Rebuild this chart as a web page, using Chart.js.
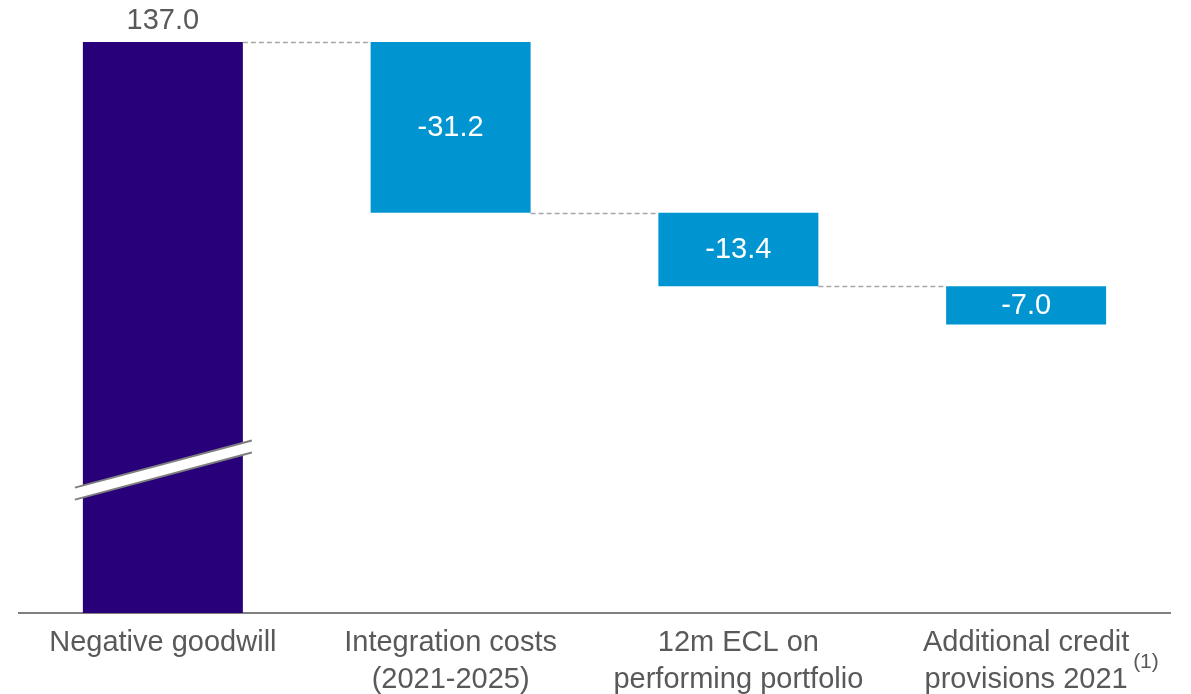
<!DOCTYPE html>
<html>
<head>
<meta charset="utf-8">
<script src="https://cdn.jsdelivr.net/npm/chart.js@4.4.1/dist/chart.umd.min.js"></script>
<style>
  html, body { margin: 0; padding: 0; background: #ffffff; }
  #wrap { width: 1191px; height: 694px; position: relative; }
</style>
</head>
<body>
<div id="wrap"><canvas id="c"></canvas></div>
<script>
// Bridge from negative goodwill to the net figure (EUR m)
const categories = [
  ['Negative goodwill'],
  ['Integration costs', '(2021-2025)'],
  ['12m ECL on', 'performing portfolio'],
  ['Additional credit', 'provisions 2021']
];
const changes = [137.0, -31.2, -13.4, -7.0];
const footnotes = ['', '', '', '(1)'];

// Broken value axis: the lower part of the first bar is cut away
const axisFloor = 32.7;
const axisCeil = 137.0;

const FONT = "'Liberation Sans', Arial, Helvetica, sans-serif";
const TEXT = '#595959';
const TOTAL_COLOR = '#28007A';
const STEP_COLOR = '#0094D1';

// floating spans [low, high] for each waterfall step
const spans = [];
const levels = [];
let running = 0;
changes.forEach((v, i) => {
  if (i === 0) {
    spans.push([0, v]);
    running = v;
  } else {
    spans.push([running + v, running]);
    running += v;
  }
  levels.push(running);
});

const waterfallDecor = {
  id: 'waterfallDecor',
  afterDatasetsDraw(chart) {
    const ctx = chart.ctx;
    const y = chart.scales.y;
    const bars = chart.getDatasetMeta(0).data;
    ctx.save();

    // dashed connectors between consecutive steps
    ctx.strokeStyle = '#A6A6A6';
    ctx.lineWidth = 1.5;
    ctx.setLineDash([5, 3]);
    for (let i = 0; i < bars.length - 1; i++) {
      const a = bars[i], b = bars[i + 1];
      const py = Math.round(y.getPixelForValue(levels[i])) + 0.5;
      ctx.beginPath();
      ctx.moveTo(a.x + a.width / 2, py);
      ctx.lineTo(b.x - b.width / 2, py);
      ctx.stroke();
    }
    ctx.setLineDash([]);

    // axis break across the first bar
    const first = bars[0];
    const x0 = first.x - first.width / 2 - 8;
    const x1 = first.x + first.width / 2 + 9;
    const y0 = y.getPixelForValue(54.5);
    const y1 = y.getPixelForValue(63.1);
    const half = 6;
    ctx.fillStyle = '#ffffff';
    ctx.beginPath();
    ctx.moveTo(x0, y0 - half);
    ctx.lineTo(x1, y1 - half);
    ctx.lineTo(x1, y1 + half);
    ctx.lineTo(x0, y0 + half);
    ctx.closePath();
    ctx.fill();
    ctx.strokeStyle = '#7F7F7F';
    ctx.lineWidth = 2;
    ctx.beginPath();
    ctx.moveTo(x0, y0 - half); ctx.lineTo(x1, y1 - half);
    ctx.moveTo(x0, y0 + half); ctx.lineTo(x1, y1 + half);
    ctx.stroke();

    // value labels
    ctx.font = '29px ' + FONT;
    ctx.textAlign = 'center';
    ctx.textBaseline = 'middle';
    bars.forEach((bar, i) => {
      const txt = changes[i].toFixed(1);
      if (i === 0) {
        ctx.fillStyle = TEXT;
        ctx.fillText(txt, bar.x, y.getPixelForValue(spans[i][1]) - 21);
      } else {
        const mid = (y.getPixelForValue(spans[i][0]) + y.getPixelForValue(spans[i][1])) / 2;
        ctx.fillStyle = '#ffffff';
        ctx.fillText(txt, bar.x, mid + 1);
      }
    });

    // footnote markers beside category labels
    ctx.font = '21px ' + FONT;
    ctx.fillStyle = TEXT;
    ctx.textAlign = 'left';
    footnotes.forEach((f, i) => {
      if (!f) return;
      const bar = bars[i];
      ctx.fillText(f, bar.x + 107, chart.chartArea.bottom + 49);
    });
    ctx.restore();
  }
};

new Chart(document.getElementById('c'), {
  type: 'bar',
  data: {
    labels: categories,
    datasets: [{
      data: spans,
      backgroundColor: changes.map((v, i) => i === 0 ? TOTAL_COLOR : STEP_COLOR),
      borderWidth: 0,
      barPercentage: 1.0,
      categoryPercentage: 0.556
    }]
  },
  options: {
    responsive: true,
    maintainAspectRatio: false,
    animation: false,
    events: [],
    layout: { padding: { left: 19, right: 21, top: 42, bottom: -17 } },
    plugins: {
      legend: { display: false },
      tooltip: { enabled: false },
      title: { display: false }
    },
    scales: {
      x: {
        grid: { display: false, drawTicks: false },
        border: { display: true, color: '#808080', width: 2 },
        ticks: {
          color: TEXT,
          padding: 12,
          font: { family: FONT, size: 29, lineHeight: 1.276 },
          maxRotation: 0,
          autoSkip: false
        }
      },
      y: {
        display: false,
        min: axisFloor,
        max: axisCeil
      }
    }
  },
  plugins: [waterfallDecor]
});
</script>
</body>
</html>
